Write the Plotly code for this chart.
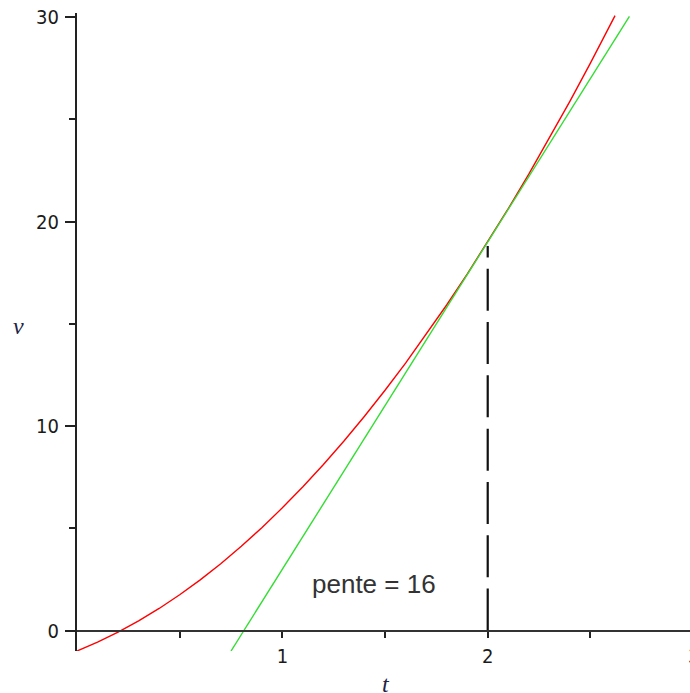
import plotly.graph_objects as go

# Red curve v(t)
t_curve = [0.0, 0.1, 0.2, 0.3, 0.4, 0.5, 0.6, 0.7, 0.8, 0.9, 1.0, 1.1, 1.2, 1.3,
           1.4, 1.5, 1.6, 1.7, 1.8, 1.9, 2.0, 2.1, 2.2, 2.3, 2.4, 2.5, 2.6, 2.62]
v_curve = [-1.0, -0.57, -0.08, 0.47, 1.08, 1.75, 2.48, 3.27, 4.12, 5.03, 6.0, 7.03,
           8.12, 9.27, 10.48, 11.75, 13.08, 14.47, 15.92, 17.43, 19.0, 20.63, 22.32,
           24.07, 25.88, 27.75, 29.68, 30.07]

# Green tangent line at t = 2 (slope 16)
t_tangent = [0.75, 2.69]
v_tangent = [-1.0, 30.04]

# Dashed vertical marker at t = 2
t_mark = [2.0, 2.0]
v_mark = [0.0, 18.8]

x_range = [0.0, 2.985]
y_range = [-1.0, 30.2]

x_tickvals = [0.5, 1.0, 1.5, 2.0, 2.5]
x_ticktext = ["", "1", "", "2", ""]
y_tickvals = [0, 10, 20, 30]
y_minorvals = [5, 15, 25]

label_text = "pente = 16"

W, H = 690, 693
ML, MR, MT, MB = 77, 0, 13, 42
pw, ph = W - ML - MR, H - MT - MB

def px_to_paper(px, py):
    return (px - ML) / pw, (H - MB - py) / ph

fig = go.Figure()
fig.add_trace(go.Scatter(x=t_curve, y=v_curve, mode="lines",
                         line=dict(color="#ff0000", width=1.4), showlegend=False))
fig.add_trace(go.Scatter(x=t_tangent, y=v_tangent, mode="lines",
                         line=dict(color="#33dd33", width=1.4), showlegend=False))
fig.add_trace(go.Scatter(x=t_mark, y=v_mark, mode="lines",
                         line=dict(color="#111111", width=2.2, dash="42px,11.3px"),
                         showlegend=False))

axis_y_pos = (0 - y_range[0]) / (y_range[1] - y_range[0])
tickfont = dict(family="DejaVu Sans Condensed, DejaVu Sans", size=20, color="#1a1a1a")

fig.update_layout(
    width=W, height=H,
    margin=dict(l=ML, r=MR, t=MT, b=MB, autoexpand=False),
    paper_bgcolor="white", plot_bgcolor="white",
    xaxis=dict(range=x_range, anchor="free", position=axis_y_pos,
               showgrid=False, zeroline=False, showline=True,
               linecolor="#333333", linewidth=2,
               ticks="outside", ticklen=6, tickwidth=2, tickcolor="#222222",
               tickvals=x_tickvals, ticktext=x_ticktext, tickfont=tickfont,
               ticklabelstandoff=1, automargin=False),
    yaxis=dict(range=y_range, showgrid=False, zeroline=False, showline=True,
               linecolor="#222222", linewidth=2,
               ticks="outside", ticklen=10, tickwidth=2, tickcolor="#222222",
               tickvals=y_tickvals, tickfont=tickfont, ticklabelstandoff=2,
               minor=dict(tickvals=y_minorvals, ticks="outside", ticklen=6,
                          tickwidth=2, tickcolor="#222222"),
               automargin=False),
)

ax3, ay3 = px_to_paper(ML + 3 * pw / (x_range[1] - x_range[0]), 656)
fig.add_annotation(x=ax3, y=ay3, xref="paper", yref="paper", text="3",
                   showarrow=False, font=tickfont, xanchor="center", yanchor="middle")

vx, vy = px_to_paper(18, 326)
fig.add_annotation(x=vx, y=vy, xref="paper", yref="paper", text="<i>v</i>",
                   showarrow=False, xanchor="center", yanchor="middle",
                   font=dict(family="Liberation Serif", size=24, color="#222244"))
tx, ty = px_to_paper(386, 684)
fig.add_annotation(x=tx, y=ty, xref="paper", yref="paper", text="<i>t</i>",
                   showarrow=False, xanchor="center", yanchor="middle",
                   font=dict(family="Liberation Serif", size=24, color="#222244"))

fig.add_annotation(x=1.444, y=2.27, xref="x", yref="y", text=label_text,
                   showarrow=False, xanchor="center", yanchor="middle",
                   font=dict(family="Liberation Sans", size=26, color="#333333"))

fig.write_html("out.html", config={"displayModeBar": False},
               post_script="document.body.style.margin='0';")
